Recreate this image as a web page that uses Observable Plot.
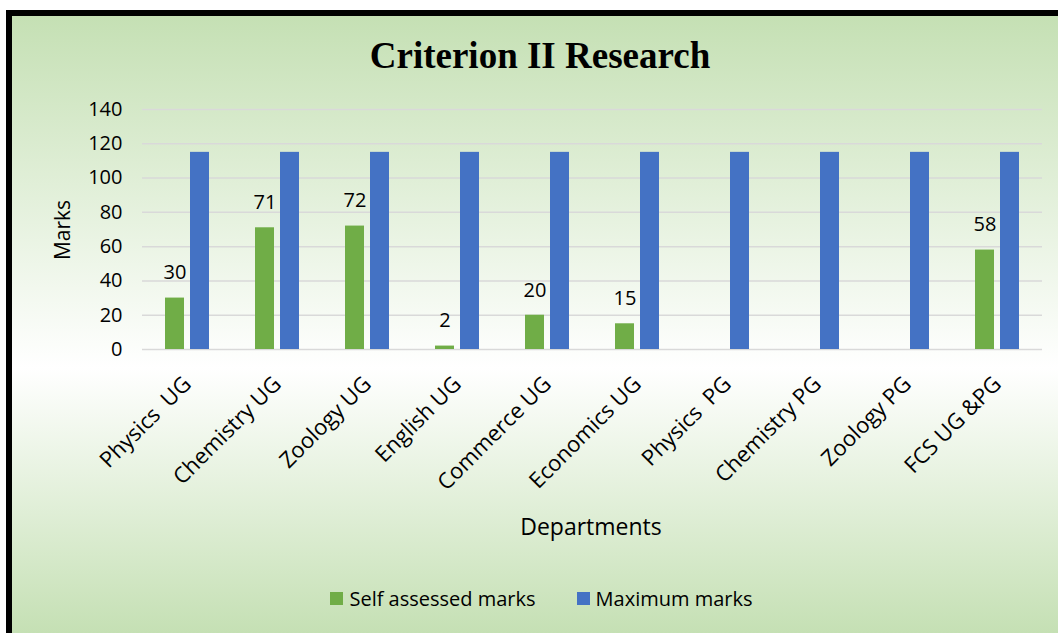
<!DOCTYPE html>
<html>
<head>
<meta charset="utf-8">
<script src="https://cdn.jsdelivr.net/npm/d3@7"></script>
<script src="https://cdn.jsdelivr.net/npm/@observablehq/plot@0.6"></script>
<style>
  body { margin: 0; }
  #wrap { position: relative; width: 1058px; height: 633px; background: #fff; overflow: hidden; font-family: "Open Sans", sans-serif; color: #000; }
  #frame { position: absolute; left: 6px; top: 10px; width: 1052px; height: 623px; box-sizing: border-box;
           border-left: 6px solid #000; border-top: 6px solid #000;
           background: linear-gradient(to bottom, #c5e0b4 0%, #ffffff 57%, #c5e0b4 100%); }
  #title { position: absolute; left: 0; top: 37px; width: 1080px; text-align: center; font-family: "Liberation Serif", serif; font-weight: bold; font-size: 37px; line-height: 1; }
  #chart { position: absolute; left: 12px; top: 90px; }
  #chart svg text { white-space: pre; }
  #xlabel { position: absolute; left: 391px; top: 511px; width: 400px; text-align: center; font-size: 23px; line-height: 30px; }
  #ylabel { position: absolute; left: 62px; top: 230px; transform: translate(-50%, -50%) rotate(-90deg); font-size: 21px; line-height: 1; white-space: nowrap; }
  #legend { position: absolute; left: 0; top: 586px; width: 1083px; height: 24px; display: flex; justify-content: center; align-items: center; font-size: 20px; }
  .item { display: flex; align-items: center; }
  .item + .item { margin-left: 41px; }
  .sw { width: 13px; height: 13px; margin-right: 6px; }
</style>
</head>
<body>
<div id="wrap">
  <div id="frame"></div>
  <div id="title">Criterion II Research</div>
  <div id="chart"></div>
  <div id="xlabel">Departments</div>
  <div id="ylabel">Marks</div>
  <div id="legend"></div>
</div>
<script>
const departments = ["Physics  UG", "Chemistry UG", "Zoology UG", "English UG", "Commerce UG", "Economics UG", "Physics  PG", "Chemistry PG", "Zoology PG", "FCS UG &PG"];
const selfAssessed = [30, 71, 72, 2, 20, 15, null, null, null, 58];
const maximumMarks = [115, 115, 115, 115, 115, 115, 115, 115, 115, 115];
const seriesNames = ["Self assessed marks", "Maximum marks"];
const seriesColors = ["#70ad47", "#4472c4"];
const yTicks = [0, 20, 40, 60, 80, 100, 120, 140];

const rows = [];
departments.forEach((d, i) => {
  rows.push({dept: d, series: seriesNames[0], value: selfAssessed[i]});
  rows.push({dept: d, series: seriesNames[1], value: maximumMarks[i]});
});
const bars = rows.filter(r => r.value != null);
const labels = bars.filter(r => r.series === seriesNames[0]);

const chart = Plot.plot({
  width: 1046,
  height: 460,
  marginTop: 19,
  marginBottom: 201,
  marginLeft: 128,
  marginRight: 15,
  style: {background: "transparent", fontFamily: "'Open Sans', sans-serif", fontSize: "19px", color: "#000"},
  fx: {domain: departments, padding: 0},
  x: {domain: seriesNames, axis: null, paddingInner: 0.23, paddingOuter: 0.85},
  y: {domain: [0, 140]},
  color: {domain: seriesNames, range: seriesColors},
  marks: [
    Plot.gridY(yTicks, {stroke: "#d9d9d9", strokeOpacity: 1, strokeWidth: 1.5}),
    Plot.axisY({ticks: yTicks, tickSize: 0, tickPadding: 20, fontSize: 20, label: null}),
    Plot.axisFx({anchor: "bottom", tickRotate: -45, tickSize: 0, tickPadding: 31, fontSize: 22, label: null}),
    Plot.barY(bars, {fx: "dept", x: "series", y: "value", fill: "series"}),
    Plot.text(labels, {fx: "dept", x: "series", y: "value", text: d => String(d.value), dy: -25, fontSize: 20})
  ]
});
document.getElementById("chart").appendChild(chart);

const legend = document.getElementById("legend");
seriesNames.forEach((s, i) => {
  const item = document.createElement("div");
  item.className = "item";
  const sw = document.createElement("div");
  sw.className = "sw";
  sw.style.background = seriesColors[i];
  const t = document.createElement("span");
  t.textContent = s;
  item.appendChild(sw);
  item.appendChild(t);
  legend.appendChild(item);
});
</script>
</body>
</html>
